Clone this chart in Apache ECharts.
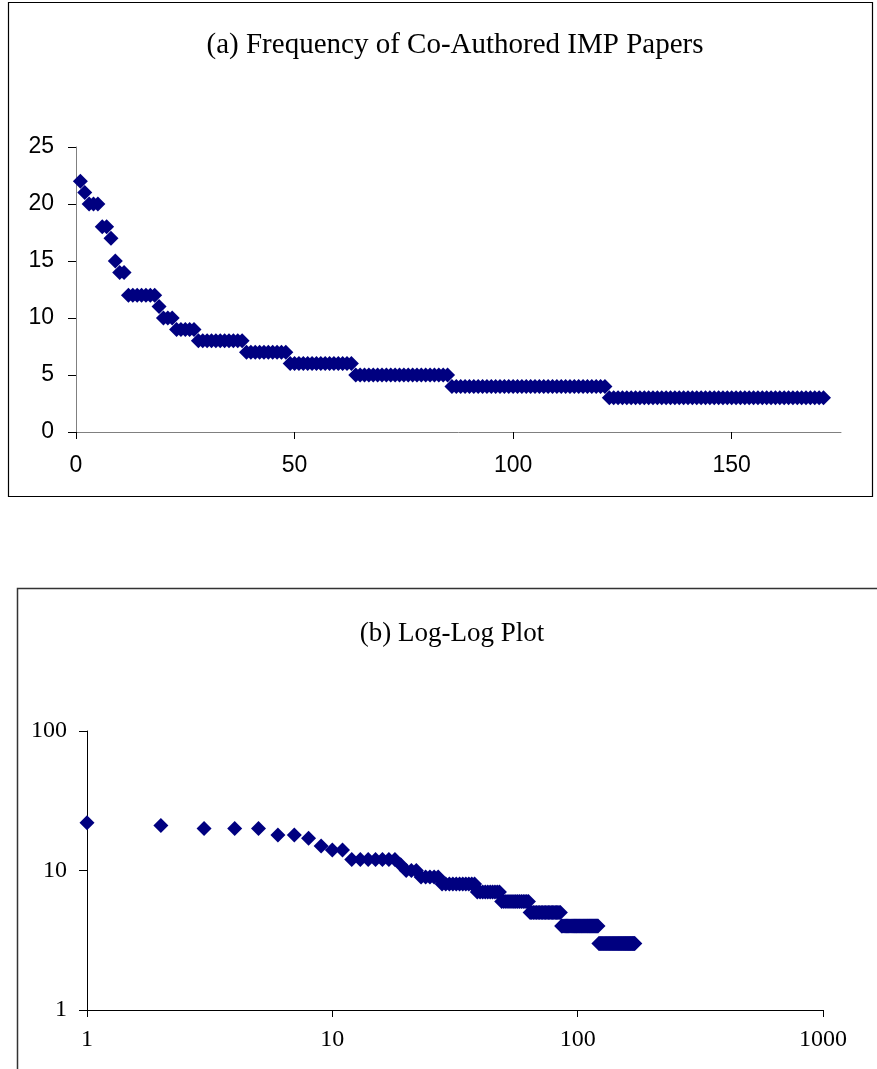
<!DOCTYPE html>
<html>
<head>
<meta charset="utf-8">
<script src="https://cdn.jsdelivr.net/npm/echarts@6/dist/echarts.min.js"></script>
<style>
html,body{margin:0;padding:0;background:#fff;}
#chart{width:877px;height:1069px;}
</style>
</head>
<body>
<div id="chart"></div>
<script>
// Paper rank (1..171) and co-authored paper frequency
var ranks = [];
for (var i = 1; i <= 171; i++) ranks.push(i);
var frequencies = [
  22, 21, 20, 20, 20, 18, 18, 17, 15, 14, 14,
  12, 12, 12, 12, 12, 12, 12,
  11,
  10, 10, 10,
  9, 9, 9, 9, 9,
  8, 8, 8, 8, 8, 8, 8, 8, 8, 8, 8,
  7, 7, 7, 7, 7, 7, 7, 7, 7, 7,
  6, 6, 6, 6, 6, 6, 6, 6, 6, 6, 6, 6, 6, 6, 6,
  5, 5, 5, 5, 5, 5, 5, 5, 5, 5, 5, 5, 5, 5, 5, 5, 5, 5, 5, 5, 5, 5,
  4, 4, 4, 4, 4, 4, 4, 4, 4, 4, 4, 4, 4, 4, 4, 4, 4, 4, 4, 4, 4, 4, 4, 4, 4, 4, 4, 4, 4, 4, 4, 4, 4, 4, 4, 4,
  3, 3, 3, 3, 3, 3, 3, 3, 3, 3, 3, 3, 3, 3, 3, 3, 3, 3, 3, 3, 3, 3, 3, 3, 3,
  3, 3, 3, 3, 3, 3, 3, 3, 3, 3, 3, 3, 3, 3, 3, 3, 3, 3, 3, 3, 3, 3, 3, 3, 3
];
var titleA = '(a) Frequency of Co-Authored IMP Papers';
var titleB = '(b) Log-Log Plot';
var linTicksX = [0, 50, 100, 150];
var linTicksY = [0, 5, 10, 15, 20, 25];
var logTicksX = [1, 10, 100, 1000];
var logTicksY = [1, 10, 100];

var points = ranks.map(function (r, i) { return [r, frequencies[i]]; });

var navy = '#000080';
var serif = '"Liberation Serif", "Times New Roman", serif';
var sans = '"Liberation Sans", Arial, sans-serif';

var chart = echarts.init(document.getElementById('chart'), null, {renderer: 'canvas'});
chart.setOption({
  animation: false,
  backgroundColor: '#fff',
  title: [
    {text: titleA, left: 450, top: 26, textAlign: 'center',
     textStyle: {fontFamily: serif, fontSize: 29, fontWeight: 'normal', color: '#000'}},
    {text: titleB, left: 447, top: 615, textAlign: 'center',
     textStyle: {fontFamily: serif, fontSize: 27, fontWeight: 'normal', color: '#000'}}
  ],
  graphic: [
    {type: 'rect', shape: {x: 8.5, y: 2.5, width: 864, height: 494},
     style: {fill: 'none', stroke: '#000', lineWidth: 1.2}, silent: true, z: -1},
    {type: 'rect', shape: {x: 17.5, y: 588.5, width: 900, height: 600},
     style: {fill: 'none', stroke: '#333', lineWidth: 1.5}, silent: true, z: -1}
  ],
  grid: [
    {left: 76, top: 147, width: 765, height: 285},
    {left: 87, top: 731, width: 736, height: 279}
  ],
  xAxis: [
    {gridIndex: 0, type: 'value', min: 0, max: 175, interval: 50,
     splitLine: {show: false},
     axisLine: {lineStyle: {color: '#808080', width: 1}},
     axisTick: {length: 7, customValues: linTicksX, lineStyle: {color: '#000'}},
     axisLabel: {fontFamily: sans, fontSize: 23, color: '#000', margin: 22,
                 customValues: linTicksX}},
    {gridIndex: 1, type: 'log', logBase: 10, min: 1, max: 1000,
     splitLine: {show: false},
     axisLine: {onZero: false, lineStyle: {color: '#000', width: 1}},
     axisTick: {length: 7, customValues: logTicksX, lineStyle: {color: '#000'}},
     minorTick: {show: false},
     axisLabel: {fontFamily: serif, fontSize: 24, color: '#000', margin: 18,
                 customValues: logTicksX,
                 formatter: function (v) { return String(Math.round(v)); }}}
  ],
  yAxis: [
    {gridIndex: 0, type: 'value', min: 0, max: 25, interval: 5,
     splitLine: {show: false},
     axisLine: {show: true, lineStyle: {color: '#808080', width: 1}},
     axisTick: {show: true, length: 8, customValues: linTicksY, lineStyle: {color: '#000'}},
     axisLabel: {fontFamily: sans, fontSize: 23, color: '#000', margin: 22,
                 customValues: linTicksY}},
    {gridIndex: 1, type: 'log', logBase: 10, min: 1, max: 100,
     splitLine: {show: false},
     axisLine: {show: true, onZero: false, lineStyle: {color: '#000', width: 1}},
     axisTick: {show: true, length: 8, customValues: logTicksY, lineStyle: {color: '#000'}},
     axisLabel: {fontFamily: serif, fontSize: 24, color: '#000', margin: 20,
                 customValues: logTicksY,
                 formatter: function (v) { return String(Math.round(v)); }}}
  ],
  series: [
    {type: 'scatter', xAxisIndex: 0, yAxisIndex: 0, data: points,
     symbol: 'diamond', symbolSize: 15, itemStyle: {color: navy, opacity: 1}},
    {type: 'scatter', xAxisIndex: 1, yAxisIndex: 1, data: points,
     symbol: 'diamond', symbolSize: 15, itemStyle: {color: navy, opacity: 1}}
  ]
});
</script>
</body>
</html>
